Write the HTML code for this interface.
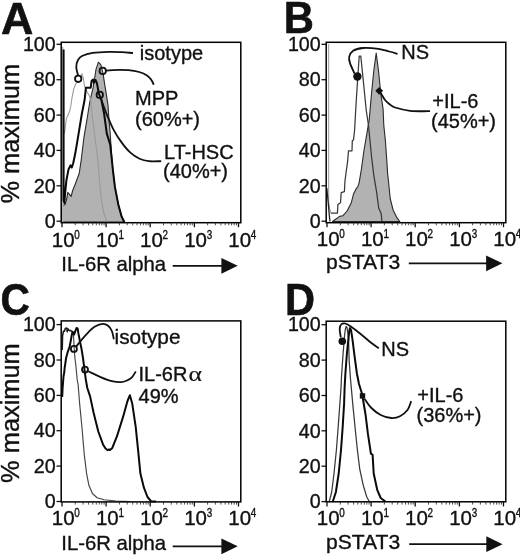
<!DOCTYPE html>
<html><head><meta charset="utf-8"><style>
html,body{margin:0;padding:0;background:#fff;}
svg{display:block;filter:grayscale(1);}
text{font-family:"Liberation Sans",sans-serif;fill:#111;stroke:#111;stroke-width:0.35px;}
</style></head><body>
<svg width="520" height="556" viewBox="0 0 520 556">
<rect width="520" height="556" fill="#fff"/>
<g transform="translate(0,0)">
<path d="M61.7,222.0 L61.7,206.0 L65.1,204.4 L66.4,200.4 L67.8,192.3 L69.5,194.5 L71.2,196.3 L72.5,191.0 L75.2,184.2 L79.2,173.5 L81.2,160.0 L83.9,137.7 L87.3,117.5 L89.8,102.0 L93.1,87.7 L94.5,79.0 L96.0,69.4 L98.4,62.2 L100.8,64.6 L103.2,74.2 L104.6,83.8 L106.5,95.4 L108.0,105.0 L108.8,117.5 L110.2,133.6 L111.5,153.8 L112.9,170.0 L114.9,186.9 L118.3,204.4 L121.6,216.5 L124.3,222.0Z" fill="#b2b2b2" stroke="#2a2a2a" stroke-width="1.1" stroke-linejoin="round"/><rect x="61.8" y="47" width="1.6" height="175" fill="#b2b2b2"/><path d="M64.4,133.6 L66.4,118.8 L69.8,110.8 L71.0,105.0 L71.9,98.3 L73.8,88.7 L75.8,83.8 L79.0,80.0 L82.0,73.8 L83.5,79.0 L84.4,85.8 L87.0,92.0 L89.2,95.4 L90.7,100.0 L92.7,120.0 L95.4,140.4 L98.0,160.6 L99.4,180.2 L101.4,200.4 L104.1,213.8 L106.8,221.2" fill="none" stroke="#9a9a9a" stroke-width="1.1" stroke-linejoin="round"/><path d="M63.6,49.4 L63.6,200.0 L64.4,203.0 L65.1,193.6 L66.4,180.2 L68.5,169.4 L70.5,165.4 L71.8,167.4 L73.2,163.3 L75.2,153.8 L78.6,133.6 L81.9,113.5 L84.6,100.0 L85.9,87.7 L90.7,87.7 L91.6,81.0 L93.1,79.5 L94.0,82.9 L95.5,80.0 L96.9,82.9 L98.8,93.5 L101.4,100.0 L104.1,113.5 L106.8,133.6 L110.2,144.4 L111.5,156.5 L112.9,170.0 L114.9,186.9 L118.3,204.4 L121.6,216.5 L124.3,222.0" fill="none" stroke="#0a0a0a" stroke-width="2" stroke-linejoin="round"/><path d="M78.1,75.7 C77.8,74.2 76.3,69.6 76.3,67.0 C76.3,64.4 77.0,61.8 78.0,60.0 C79.0,58.2 79.5,57.2 82.0,56.0 C84.5,54.8 88.2,53.5 92.7,52.8 C97.2,52.1 103.9,51.9 108.8,51.8 C113.7,51.7 118.0,52.0 122.0,52.2 C126.0,52.4 131.2,52.9 133.0,53.0" fill="none" stroke="#111" stroke-width="1.8"/><path d="M105.5,70.7 C120,69 138,69.5 147,75.5 C150.5,78 152.5,81 153.7,84.8" fill="none" stroke="#111" stroke-width="1.8"/><path d="M100.6,97.5 C100.9,98.5 101.6,100.5 102.7,103.5 C103.8,106.5 105.5,111.5 107.3,115.8 C109.1,120.1 111.2,125.2 113.5,129.6 C115.8,133.9 118.4,138.1 121.2,141.9 C124.0,145.8 127.3,149.9 130.4,152.7 C133.5,155.5 136.5,157.4 139.6,158.8 C142.7,160.2 145.2,160.8 148.8,161.2 C152.4,161.6 159.1,161.2 161.2,161.2" fill="none" stroke="#111" stroke-width="1.8"/><circle cx="78.2" cy="78.8" r="3.2" fill="#fff" stroke="#111" stroke-width="1.8"/><circle cx="102.7" cy="70.9" r="3.2" fill="none" stroke="#111" stroke-width="1.8"/><circle cx="99.8" cy="94.9" r="3.2" fill="none" stroke="#111" stroke-width="1.8"/><text x="139.8" y="59.8" font-size="20">isotype</text><text x="135" y="105" font-size="20">MPP</text><text x="135" y="126.2" font-size="20">(60%+)</text><text x="164" y="158.5" font-size="20">LT-HSC</text><text x="163" y="178.3" font-size="20">(40%+)</text><line x1="172.7" y1="265.8" x2="227.4" y2="265.8" stroke="#111" stroke-width="1.8"/><polygon points="221.4,257.90000000000003 237.70000000000002,265.8 221.4,273.7" fill="#111"/>
<rect x="61.2" y="42.3" width="179.6" height="180.39999999999998" fill="none" stroke="#000" stroke-width="1.5"/>
<line x1="56.5" y1="44.3" x2="61" y2="44.3" stroke="#111" stroke-width="1.3"/>
<text transform="translate(55.7,51.0) scale(0.96,1)" text-anchor="end" font-size="20.5">100</text>
<line x1="56.5" y1="79.7" x2="61" y2="79.7" stroke="#111" stroke-width="1.3"/>
<text transform="translate(55.7,86.4) scale(0.96,1)" text-anchor="end" font-size="20.5">80</text>
<line x1="56.5" y1="115.1" x2="61" y2="115.1" stroke="#111" stroke-width="1.3"/>
<text transform="translate(55.7,121.8) scale(0.96,1)" text-anchor="end" font-size="20.5">60</text>
<line x1="56.5" y1="150.4" x2="61" y2="150.4" stroke="#111" stroke-width="1.3"/>
<text transform="translate(55.7,157.1) scale(0.96,1)" text-anchor="end" font-size="20.5">40</text>
<line x1="56.5" y1="185.8" x2="61" y2="185.8" stroke="#111" stroke-width="1.3"/>
<text transform="translate(55.7,192.5) scale(0.96,1)" text-anchor="end" font-size="20.5">20</text>
<line x1="56.5" y1="221.2" x2="61" y2="221.2" stroke="#111" stroke-width="1.3"/>
<text transform="translate(55.7,227.9) scale(0.96,1)" text-anchor="end" font-size="20.5">0</text>
<line x1="62.0" y1="222.5" x2="62.0" y2="227.2" stroke="#111" stroke-width="1.3"/>
<line x1="75.3" y1="222.5" x2="75.3" y2="225.3" stroke="#222" stroke-width="0.8"/>
<line x1="83.1" y1="222.5" x2="83.1" y2="225.3" stroke="#222" stroke-width="0.8"/>
<line x1="88.6" y1="222.5" x2="88.6" y2="225.3" stroke="#222" stroke-width="0.8"/>
<line x1="92.8" y1="222.5" x2="92.8" y2="225.3" stroke="#222" stroke-width="0.8"/>
<line x1="96.3" y1="222.5" x2="96.3" y2="225.3" stroke="#222" stroke-width="0.8"/>
<line x1="99.3" y1="222.5" x2="99.3" y2="225.3" stroke="#222" stroke-width="0.8"/>
<line x1="101.8" y1="222.5" x2="101.8" y2="225.3" stroke="#222" stroke-width="0.8"/>
<line x1="104.1" y1="222.5" x2="104.1" y2="225.3" stroke="#222" stroke-width="0.8"/>
<text x="51.8" y="246.6" font-size="20.5">10</text><text transform="translate(74.3,238.6) scale(0.86,1.04)" font-size="11.5">0</text>
<line x1="106.1" y1="222.5" x2="106.1" y2="227.2" stroke="#111" stroke-width="1.3"/>
<line x1="119.4" y1="222.5" x2="119.4" y2="225.3" stroke="#222" stroke-width="0.8"/>
<line x1="127.2" y1="222.5" x2="127.2" y2="225.3" stroke="#222" stroke-width="0.8"/>
<line x1="132.7" y1="222.5" x2="132.7" y2="225.3" stroke="#222" stroke-width="0.8"/>
<line x1="137.0" y1="222.5" x2="137.0" y2="225.3" stroke="#222" stroke-width="0.8"/>
<line x1="140.5" y1="222.5" x2="140.5" y2="225.3" stroke="#222" stroke-width="0.8"/>
<line x1="143.4" y1="222.5" x2="143.4" y2="225.3" stroke="#222" stroke-width="0.8"/>
<line x1="146.0" y1="222.5" x2="146.0" y2="225.3" stroke="#222" stroke-width="0.8"/>
<line x1="148.2" y1="222.5" x2="148.2" y2="225.3" stroke="#222" stroke-width="0.8"/>
<text x="95.9" y="246.6" font-size="20.5">10</text><text transform="translate(118.4,238.6) scale(0.86,1.04)" font-size="11.5">1</text>
<line x1="150.2" y1="222.5" x2="150.2" y2="227.2" stroke="#111" stroke-width="1.3"/>
<line x1="163.5" y1="222.5" x2="163.5" y2="225.3" stroke="#222" stroke-width="0.8"/>
<line x1="171.3" y1="222.5" x2="171.3" y2="225.3" stroke="#222" stroke-width="0.8"/>
<line x1="176.8" y1="222.5" x2="176.8" y2="225.3" stroke="#222" stroke-width="0.8"/>
<line x1="181.1" y1="222.5" x2="181.1" y2="225.3" stroke="#222" stroke-width="0.8"/>
<line x1="184.6" y1="222.5" x2="184.6" y2="225.3" stroke="#222" stroke-width="0.8"/>
<line x1="187.5" y1="222.5" x2="187.5" y2="225.3" stroke="#222" stroke-width="0.8"/>
<line x1="190.1" y1="222.5" x2="190.1" y2="225.3" stroke="#222" stroke-width="0.8"/>
<line x1="192.3" y1="222.5" x2="192.3" y2="225.3" stroke="#222" stroke-width="0.8"/>
<text x="140.0" y="246.6" font-size="20.5">10</text><text transform="translate(162.5,238.6) scale(0.86,1.04)" font-size="11.5">2</text>
<line x1="194.4" y1="222.5" x2="194.4" y2="227.2" stroke="#111" stroke-width="1.3"/>
<line x1="207.6" y1="222.5" x2="207.6" y2="225.3" stroke="#222" stroke-width="0.8"/>
<line x1="215.4" y1="222.5" x2="215.4" y2="225.3" stroke="#222" stroke-width="0.8"/>
<line x1="220.9" y1="222.5" x2="220.9" y2="225.3" stroke="#222" stroke-width="0.8"/>
<line x1="225.2" y1="222.5" x2="225.2" y2="225.3" stroke="#222" stroke-width="0.8"/>
<line x1="228.7" y1="222.5" x2="228.7" y2="225.3" stroke="#222" stroke-width="0.8"/>
<line x1="231.6" y1="222.5" x2="231.6" y2="225.3" stroke="#222" stroke-width="0.8"/>
<line x1="234.2" y1="222.5" x2="234.2" y2="225.3" stroke="#222" stroke-width="0.8"/>
<line x1="236.5" y1="222.5" x2="236.5" y2="225.3" stroke="#222" stroke-width="0.8"/>
<text x="184.2" y="246.6" font-size="20.5">10</text><text transform="translate(206.7,238.6) scale(0.86,1.04)" font-size="11.5">3</text>
<line x1="238.5" y1="222.5" x2="238.5" y2="227.2" stroke="#111" stroke-width="1.3"/>
<text x="228.3" y="246.6" font-size="20.5">10</text><text transform="translate(250.8,238.6) scale(0.86,1.04)" font-size="11.5">4</text>
<text transform="translate(61.3,271.2) scale(1,1)" font-size="20.3">IL-6R alpha</text>
<text transform="translate(0.9,34.1) scale(1.03,1)" font-size="43.5" font-weight="bold" style="stroke-width:0.6px">A</text>
<text transform="translate(18.5,203.6) rotate(-90)" font-size="25.4">% maximum</text>
</g>
<g transform="translate(265,0)">
<path d="M67.5,221.5 L69.2,220.2 L74.6,216.4 L77.8,215.8 L82.1,211.0 L86.4,202.4 L88.6,193.7 L90.8,189.4 L93.0,186.2 L94.2,182.3 L96.5,168.5 L98.8,151.5 L101.2,137.7 L103.5,123.8 L104.2,120.0 L106.5,93.8 L108.8,70.8 L111.2,53.1 L113.5,70.8 L115.8,93.8 L118.1,109.2 L118.8,125.4 L120.4,140.8 L121.5,156.2 L122.7,174.6 L123.3,179.2 L125.2,198.5 L128.1,210.0 L131.9,217.7 L134.8,221.5Z" fill="#b2b2b2" stroke="#2a2a2a" stroke-width="1.1" stroke-linejoin="round"/><path d="M63.7,44.0 L63.7,202.0 L64.5,208.0 L65.9,213.1" fill="none" stroke="#999" stroke-width="1" stroke-linejoin="round"/><path d="M61.8,188.0 L63.2,202.4 L64.3,215.3 L65.0,221.5" fill="none" stroke="#222" stroke-width="1.3" stroke-linejoin="round"/><path d="M65.9,213.1 L72.4,213.1 L72.9,204.5 L75.5,202.8 L76.2,192.7 L79.4,191.6 L80.0,180.8 L81.2,171.5 L82.7,160.8 L83.5,150.8 L87.0,150.8 L87.3,140.8 L88.5,140.0 L89.6,130.0 L91.2,101.5 L92.7,78.5 L94.2,56.2 L95.8,56.2 L97.3,70.8 L99.6,93.8 L101.2,110.0 L103.5,125.4 L105.0,140.8 L106.5,156.2 L108.8,175.4 L111.7,192.7 L113.7,208.0 L116.2,213.8 L116.9,221.5" fill="none" stroke="#383838" stroke-width="1.25" stroke-linejoin="round"/><path d="M89.5,73.5 C88.8,71.8 85.9,65.9 85.0,63.1 C84.1,60.3 83.7,59.0 84.2,56.9 C84.7,54.8 85.8,52.3 88.1,50.8 C90.4,49.3 93.9,48.3 98.1,48.0 C102.3,47.7 109.2,48.3 113.5,48.9 C117.8,49.5 121.0,50.7 124.2,51.5 C127.4,52.3 131.1,53.4 132.5,53.8" fill="none" stroke="#111" stroke-width="1.8"/><path d="M115.8,93.1 C116.5,94.2 118.5,98.1 120.0,100.0 C121.5,101.9 123.3,103.2 125.0,104.5 C126.7,105.8 126.7,106.5 130.0,107.5 C133.3,108.5 139.2,110.1 145.0,110.8 C150.8,111.4 161.7,111.2 165.0,111.2" fill="none" stroke="#111" stroke-width="1.8"/><circle cx="92.39999999999998" cy="76.5" r="4.2" fill="#111"/><polygon points="110.29999999999998,90.8 114.19999999999999,86.89999999999999 118.1,90.8 114.19999999999999,94.7" fill="#111"/><text x="136.3" y="58.8" font-size="20">NS</text><text x="167.3" y="107.5" font-size="20">+IL-6</text><text x="166" y="128" font-size="20">(45%+)</text><line x1="143.8" y1="263.3" x2="227.1" y2="263.3" stroke="#111" stroke-width="1.8"/><polygon points="221.1,255.4 237.4,263.3 221.1,271.2" fill="#111"/>
<rect x="61.2" y="42.3" width="179.6" height="180.39999999999998" fill="none" stroke="#000" stroke-width="1.5"/>
<line x1="56.5" y1="44.3" x2="61" y2="44.3" stroke="#111" stroke-width="1.3"/>
<text transform="translate(55.7,51.0) scale(0.96,1)" text-anchor="end" font-size="20.5">100</text>
<line x1="56.5" y1="79.7" x2="61" y2="79.7" stroke="#111" stroke-width="1.3"/>
<text transform="translate(55.7,86.4) scale(0.96,1)" text-anchor="end" font-size="20.5">80</text>
<line x1="56.5" y1="115.1" x2="61" y2="115.1" stroke="#111" stroke-width="1.3"/>
<text transform="translate(55.7,121.8) scale(0.96,1)" text-anchor="end" font-size="20.5">60</text>
<line x1="56.5" y1="150.4" x2="61" y2="150.4" stroke="#111" stroke-width="1.3"/>
<text transform="translate(55.7,157.1) scale(0.96,1)" text-anchor="end" font-size="20.5">40</text>
<line x1="56.5" y1="185.8" x2="61" y2="185.8" stroke="#111" stroke-width="1.3"/>
<text transform="translate(55.7,192.5) scale(0.96,1)" text-anchor="end" font-size="20.5">20</text>
<line x1="56.5" y1="221.2" x2="61" y2="221.2" stroke="#111" stroke-width="1.3"/>
<text transform="translate(55.7,227.9) scale(0.96,1)" text-anchor="end" font-size="20.5">0</text>
<line x1="62.0" y1="222.5" x2="62.0" y2="227.2" stroke="#111" stroke-width="1.3"/>
<line x1="75.3" y1="222.5" x2="75.3" y2="225.3" stroke="#222" stroke-width="0.8"/>
<line x1="83.1" y1="222.5" x2="83.1" y2="225.3" stroke="#222" stroke-width="0.8"/>
<line x1="88.6" y1="222.5" x2="88.6" y2="225.3" stroke="#222" stroke-width="0.8"/>
<line x1="92.8" y1="222.5" x2="92.8" y2="225.3" stroke="#222" stroke-width="0.8"/>
<line x1="96.3" y1="222.5" x2="96.3" y2="225.3" stroke="#222" stroke-width="0.8"/>
<line x1="99.3" y1="222.5" x2="99.3" y2="225.3" stroke="#222" stroke-width="0.8"/>
<line x1="101.8" y1="222.5" x2="101.8" y2="225.3" stroke="#222" stroke-width="0.8"/>
<line x1="104.1" y1="222.5" x2="104.1" y2="225.3" stroke="#222" stroke-width="0.8"/>
<text x="51.8" y="245.8" font-size="20.5">10</text><text transform="translate(74.3,237.8) scale(0.86,1.04)" font-size="11.5">0</text>
<line x1="106.1" y1="222.5" x2="106.1" y2="227.2" stroke="#111" stroke-width="1.3"/>
<line x1="119.4" y1="222.5" x2="119.4" y2="225.3" stroke="#222" stroke-width="0.8"/>
<line x1="127.2" y1="222.5" x2="127.2" y2="225.3" stroke="#222" stroke-width="0.8"/>
<line x1="132.7" y1="222.5" x2="132.7" y2="225.3" stroke="#222" stroke-width="0.8"/>
<line x1="137.0" y1="222.5" x2="137.0" y2="225.3" stroke="#222" stroke-width="0.8"/>
<line x1="140.5" y1="222.5" x2="140.5" y2="225.3" stroke="#222" stroke-width="0.8"/>
<line x1="143.4" y1="222.5" x2="143.4" y2="225.3" stroke="#222" stroke-width="0.8"/>
<line x1="146.0" y1="222.5" x2="146.0" y2="225.3" stroke="#222" stroke-width="0.8"/>
<line x1="148.2" y1="222.5" x2="148.2" y2="225.3" stroke="#222" stroke-width="0.8"/>
<text x="95.9" y="245.8" font-size="20.5">10</text><text transform="translate(118.4,237.8) scale(0.86,1.04)" font-size="11.5">1</text>
<line x1="150.2" y1="222.5" x2="150.2" y2="227.2" stroke="#111" stroke-width="1.3"/>
<line x1="163.5" y1="222.5" x2="163.5" y2="225.3" stroke="#222" stroke-width="0.8"/>
<line x1="171.3" y1="222.5" x2="171.3" y2="225.3" stroke="#222" stroke-width="0.8"/>
<line x1="176.8" y1="222.5" x2="176.8" y2="225.3" stroke="#222" stroke-width="0.8"/>
<line x1="181.1" y1="222.5" x2="181.1" y2="225.3" stroke="#222" stroke-width="0.8"/>
<line x1="184.6" y1="222.5" x2="184.6" y2="225.3" stroke="#222" stroke-width="0.8"/>
<line x1="187.5" y1="222.5" x2="187.5" y2="225.3" stroke="#222" stroke-width="0.8"/>
<line x1="190.1" y1="222.5" x2="190.1" y2="225.3" stroke="#222" stroke-width="0.8"/>
<line x1="192.3" y1="222.5" x2="192.3" y2="225.3" stroke="#222" stroke-width="0.8"/>
<text x="140.0" y="245.8" font-size="20.5">10</text><text transform="translate(162.5,237.8) scale(0.86,1.04)" font-size="11.5">2</text>
<line x1="194.4" y1="222.5" x2="194.4" y2="227.2" stroke="#111" stroke-width="1.3"/>
<line x1="207.6" y1="222.5" x2="207.6" y2="225.3" stroke="#222" stroke-width="0.8"/>
<line x1="215.4" y1="222.5" x2="215.4" y2="225.3" stroke="#222" stroke-width="0.8"/>
<line x1="220.9" y1="222.5" x2="220.9" y2="225.3" stroke="#222" stroke-width="0.8"/>
<line x1="225.2" y1="222.5" x2="225.2" y2="225.3" stroke="#222" stroke-width="0.8"/>
<line x1="228.7" y1="222.5" x2="228.7" y2="225.3" stroke="#222" stroke-width="0.8"/>
<line x1="231.6" y1="222.5" x2="231.6" y2="225.3" stroke="#222" stroke-width="0.8"/>
<line x1="234.2" y1="222.5" x2="234.2" y2="225.3" stroke="#222" stroke-width="0.8"/>
<line x1="236.5" y1="222.5" x2="236.5" y2="225.3" stroke="#222" stroke-width="0.8"/>
<text x="184.2" y="245.8" font-size="20.5">10</text><text transform="translate(206.7,237.8) scale(0.86,1.04)" font-size="11.5">3</text>
<line x1="238.5" y1="222.5" x2="238.5" y2="227.2" stroke="#111" stroke-width="1.3"/>
<text x="228.3" y="245.8" font-size="20.5">10</text><text transform="translate(250.8,237.8) scale(0.86,1.04)" font-size="11.5">4</text>
<text transform="translate(61.0,268.6) scale(1.055,1)" font-size="20">pSTAT3</text>
<text transform="translate(18.8,33.3) scale(0.96,1)" font-size="43.5" font-weight="bold" style="stroke-width:0.6px">B</text>
</g>
<g transform="translate(0,279.3)">
<path d="M62.4,70.7 L62.6,56.7 L63.4,51.8 L64.4,52.2 L65.3,49.1 L66.8,48.7 L67.2,52.5 L68.0,49.5 L69.2,51.3 L70.3,51.0 L72.2,52.5 L73.4,54.1 L73.8,61.8 L74.2,69.5 L74.9,78.7 L75.9,86.5 L77.2,100.7 L78.1,104.9 L79.6,124.1 L81.9,147.5 L84.3,175.6 L86.6,194.3 L88.9,206.0 L92.4,214.2 L97.1,218.4 L104.1,220.5 L115.8,221.7 L130.0,222.2" fill="none" stroke="#444" stroke-width="1.15" stroke-linejoin="round"/><path d="M62.4,70.7 L62.6,56.7 L63.4,51.8 L64.4,52.2 L65.3,49.1 L66.8,48.7 L67.2,52.5 L68.0,49.5 L69.2,51.3 L70.3,51.0 L72.2,52.5" fill="none" stroke="#1a1a1a" stroke-width="1.2" stroke-linejoin="round"/><path d="M62.2,117.7 L62.6,108.7 L63.5,97.2 L64.3,92.7 L64.6,88.7 L65.0,86.5 L66.1,78.7 L68.0,71.8 L69.5,67.9 L70.7,61.8 L71.8,55.6 L72.6,52.5 L73.4,53.3 L74.2,55.2 L75.3,51.8 L76.5,48.7 L77.6,49.1 L78.4,54.1 L79.9,61.8 L81.5,69.5 L83.0,78.7 L84.2,88.0 L85.8,100.3 L87.3,108.7 L90.1,117.1 L93.6,133.5 L98.3,152.2 L103.0,165.1 L105.5,169.2 L107.7,170.9 L109.0,170.2 L110.0,170.7 L112.3,168.6 L117.0,156.9 L122.9,138.1 L127.5,121.7 L129.9,115.9 L132.2,124.1 L135.7,147.5 L138.1,170.9 L140.4,194.3 L143.9,208.4 L147.5,217.7 L151.0,221.9 L156.0,222.3" fill="none" stroke="#0a0a0a" stroke-width="2" stroke-linejoin="round"/><path d="M76.2,67.3 C77.0,66.3 79.0,63.5 81.1,61.0 C83.2,58.5 86.5,54.8 88.8,52.5 C91.1,50.2 92.7,48.5 95.0,47.2 C97.3,45.9 100.5,44.7 102.7,44.6 C104.9,44.5 106.6,45.3 108.1,46.5 C109.6,47.7 111.0,49.7 111.9,51.9 C112.9,54.1 113.5,58.6 113.8,59.9" fill="none" stroke="#111" stroke-width="1.8"/><path d="M88.1,91.9 C90.3,92.9 97.2,96.3 101.2,98.0 C105.2,99.7 108.6,101.1 111.9,101.9 C115.2,102.7 118.2,103.0 120.8,102.9 C123.4,102.8 125.4,101.9 127.3,101.1 C129.2,100.3 130.5,99.5 131.9,98.0 C133.3,96.5 135.2,93.2 135.8,92.2" fill="none" stroke="#111" stroke-width="1.8"/><circle cx="73.9" cy="69.59999999999997" r="3.0" fill="none" stroke="#111" stroke-width="1.8"/><circle cx="85" cy="90.30000000000001" r="3.0" fill="none" stroke="#111" stroke-width="1.8"/><text x="114.6" y="64.5" font-size="20.8">isotype</text><text x="138.5" y="101.5" font-size="20">IL-6R</text><text transform="translate(188.6,101.30000000000001) scale(1.22,0.97)" font-size="21" style="font-family:'Liberation Serif',serif;stroke-width:0.2px">&#945;</text><text x="138.6" y="123.89999999999998" font-size="20">49%</text><line x1="172.7" y1="267.0" x2="227.4" y2="267.0" stroke="#111" stroke-width="1.8"/><polygon points="221.4,259.1 237.70000000000002,267.0 221.4,274.9" fill="#111"/>
<rect x="61.2" y="41.6" width="179.6" height="181.0" fill="none" stroke="#000" stroke-width="1.5"/>
<line x1="56.5" y1="45.3" x2="61" y2="45.3" stroke="#111" stroke-width="1.3"/>
<text transform="translate(55.7,52.0) scale(0.96,1)" text-anchor="end" font-size="20.5">100</text>
<line x1="56.5" y1="80.7" x2="61" y2="80.7" stroke="#111" stroke-width="1.3"/>
<text transform="translate(55.7,87.4) scale(0.96,1)" text-anchor="end" font-size="20.5">80</text>
<line x1="56.5" y1="116.1" x2="61" y2="116.1" stroke="#111" stroke-width="1.3"/>
<text transform="translate(55.7,122.8) scale(0.96,1)" text-anchor="end" font-size="20.5">60</text>
<line x1="56.5" y1="151.4" x2="61" y2="151.4" stroke="#111" stroke-width="1.3"/>
<text transform="translate(55.7,158.1) scale(0.96,1)" text-anchor="end" font-size="20.5">40</text>
<line x1="56.5" y1="186.8" x2="61" y2="186.8" stroke="#111" stroke-width="1.3"/>
<text transform="translate(55.7,193.5) scale(0.96,1)" text-anchor="end" font-size="20.5">20</text>
<line x1="56.5" y1="222.2" x2="61" y2="222.2" stroke="#111" stroke-width="1.3"/>
<text transform="translate(55.7,228.9) scale(0.96,1)" text-anchor="end" font-size="20.5">0</text>
<line x1="62.0" y1="222.5" x2="62.0" y2="227.2" stroke="#111" stroke-width="1.3"/>
<line x1="75.3" y1="222.5" x2="75.3" y2="225.3" stroke="#222" stroke-width="0.8"/>
<line x1="83.1" y1="222.5" x2="83.1" y2="225.3" stroke="#222" stroke-width="0.8"/>
<line x1="88.6" y1="222.5" x2="88.6" y2="225.3" stroke="#222" stroke-width="0.8"/>
<line x1="92.8" y1="222.5" x2="92.8" y2="225.3" stroke="#222" stroke-width="0.8"/>
<line x1="96.3" y1="222.5" x2="96.3" y2="225.3" stroke="#222" stroke-width="0.8"/>
<line x1="99.3" y1="222.5" x2="99.3" y2="225.3" stroke="#222" stroke-width="0.8"/>
<line x1="101.8" y1="222.5" x2="101.8" y2="225.3" stroke="#222" stroke-width="0.8"/>
<line x1="104.1" y1="222.5" x2="104.1" y2="225.3" stroke="#222" stroke-width="0.8"/>
<text x="51.8" y="245.3" font-size="20.5">10</text><text transform="translate(74.3,237.3) scale(0.86,1.04)" font-size="11.5">0</text>
<line x1="106.1" y1="222.5" x2="106.1" y2="227.2" stroke="#111" stroke-width="1.3"/>
<line x1="119.4" y1="222.5" x2="119.4" y2="225.3" stroke="#222" stroke-width="0.8"/>
<line x1="127.2" y1="222.5" x2="127.2" y2="225.3" stroke="#222" stroke-width="0.8"/>
<line x1="132.7" y1="222.5" x2="132.7" y2="225.3" stroke="#222" stroke-width="0.8"/>
<line x1="137.0" y1="222.5" x2="137.0" y2="225.3" stroke="#222" stroke-width="0.8"/>
<line x1="140.5" y1="222.5" x2="140.5" y2="225.3" stroke="#222" stroke-width="0.8"/>
<line x1="143.4" y1="222.5" x2="143.4" y2="225.3" stroke="#222" stroke-width="0.8"/>
<line x1="146.0" y1="222.5" x2="146.0" y2="225.3" stroke="#222" stroke-width="0.8"/>
<line x1="148.2" y1="222.5" x2="148.2" y2="225.3" stroke="#222" stroke-width="0.8"/>
<text x="95.9" y="245.3" font-size="20.5">10</text><text transform="translate(118.4,237.3) scale(0.86,1.04)" font-size="11.5">1</text>
<line x1="150.2" y1="222.5" x2="150.2" y2="227.2" stroke="#111" stroke-width="1.3"/>
<line x1="163.5" y1="222.5" x2="163.5" y2="225.3" stroke="#222" stroke-width="0.8"/>
<line x1="171.3" y1="222.5" x2="171.3" y2="225.3" stroke="#222" stroke-width="0.8"/>
<line x1="176.8" y1="222.5" x2="176.8" y2="225.3" stroke="#222" stroke-width="0.8"/>
<line x1="181.1" y1="222.5" x2="181.1" y2="225.3" stroke="#222" stroke-width="0.8"/>
<line x1="184.6" y1="222.5" x2="184.6" y2="225.3" stroke="#222" stroke-width="0.8"/>
<line x1="187.5" y1="222.5" x2="187.5" y2="225.3" stroke="#222" stroke-width="0.8"/>
<line x1="190.1" y1="222.5" x2="190.1" y2="225.3" stroke="#222" stroke-width="0.8"/>
<line x1="192.3" y1="222.5" x2="192.3" y2="225.3" stroke="#222" stroke-width="0.8"/>
<text x="140.0" y="245.3" font-size="20.5">10</text><text transform="translate(162.5,237.3) scale(0.86,1.04)" font-size="11.5">2</text>
<line x1="194.4" y1="222.5" x2="194.4" y2="227.2" stroke="#111" stroke-width="1.3"/>
<line x1="207.6" y1="222.5" x2="207.6" y2="225.3" stroke="#222" stroke-width="0.8"/>
<line x1="215.4" y1="222.5" x2="215.4" y2="225.3" stroke="#222" stroke-width="0.8"/>
<line x1="220.9" y1="222.5" x2="220.9" y2="225.3" stroke="#222" stroke-width="0.8"/>
<line x1="225.2" y1="222.5" x2="225.2" y2="225.3" stroke="#222" stroke-width="0.8"/>
<line x1="228.7" y1="222.5" x2="228.7" y2="225.3" stroke="#222" stroke-width="0.8"/>
<line x1="231.6" y1="222.5" x2="231.6" y2="225.3" stroke="#222" stroke-width="0.8"/>
<line x1="234.2" y1="222.5" x2="234.2" y2="225.3" stroke="#222" stroke-width="0.8"/>
<line x1="236.5" y1="222.5" x2="236.5" y2="225.3" stroke="#222" stroke-width="0.8"/>
<text x="184.2" y="245.3" font-size="20.5">10</text><text transform="translate(206.7,237.3) scale(0.86,1.04)" font-size="11.5">3</text>
<line x1="238.5" y1="222.5" x2="238.5" y2="227.2" stroke="#111" stroke-width="1.3"/>
<text x="228.3" y="245.3" font-size="20.5">10</text><text transform="translate(250.8,237.3) scale(0.86,1.04)" font-size="11.5">4</text>
<text transform="translate(61.3,271.1) scale(1,1)" font-size="20.3">IL-6R alpha</text>
<text transform="translate(0.4,35.5) scale(0.935,1)" font-size="43.5" font-weight="bold" style="stroke-width:0.6px">C</text>
<text transform="translate(18.5,203.6) rotate(-90)" font-size="25.4">% maximum</text>
</g>
<g transform="translate(265,279.3)">
<path d="M64.3,222.0 L66.7,212.7 L69.0,194.2 L71.4,170.7 L73.2,147.4 L74.9,124.1 L76.0,108.7 L76.5,97.2 L78.1,74.2 L79.6,55.7 L80.4,49.7 L81.2,47.2 L82.0,48.2 L83.5,58.8 L84.2,81.9 L85.6,100.7 L87.7,124.1 L90.0,147.4 L92.4,170.7 L94.7,189.5 L98.2,205.8 L101.7,217.5 L104.1,222.0" fill="none" stroke="#383838" stroke-width="1.25" stroke-linejoin="round"/><path d="M67.9,222.0 L70.9,212.7 L73.7,194.2 L76.0,170.7 L77.7,147.4 L79.1,124.1 L79.6,108.7 L80.4,94.2 L81.9,74.2 L83.5,58.8 L84.3,51.2 L85.0,48.8 L86.0,50.7 L87.3,58.8 L89.6,77.2 L91.9,94.2 L94.0,104.7 L97.1,114.7 L100.6,135.7 L102.9,154.4 L105.9,174.3 L107.6,175.5 L108.7,194.2 L112.2,210.5 L115.7,218.7 L120.4,222.2" fill="none" stroke="#0a0a0a" stroke-width="2" stroke-linejoin="round"/><path d="M75.8,58.0 C75.6,56.6 74.6,51.7 74.7,49.5 C74.8,47.3 75.5,45.8 76.5,44.9 C77.5,44.0 78.8,43.8 80.4,44.2 C81.9,44.6 83.4,45.5 85.8,47.2 C88.2,48.9 91.9,51.7 95.0,54.2 C98.1,56.6 101.1,59.4 104.2,61.9 C107.3,64.4 112.2,67.8 113.8,69.0" fill="none" stroke="#111" stroke-width="1.8"/><path d="M99.4,119.4 C100.6,120.9 103.7,126.0 106.4,128.7 C109.1,131.4 112.4,134.0 115.7,135.7 C119.0,137.4 123.0,138.5 126.2,138.7 C129.5,138.9 132.3,138.3 135.0,136.9 C137.7,135.6 140.6,133.2 142.5,130.7 C144.4,128.2 145.6,123.4 146.2,121.9" fill="none" stroke="#111" stroke-width="1.8"/><circle cx="77.30000000000001" cy="61.89999999999998" r="3.8" fill="#111"/><rect x="94.8" y="113.89999999999996" width="5.4" height="5.4" fill="#111"/><text x="116.19999999999999" y="76.5" font-size="20">NS</text><text x="152.3" y="122.69999999999999" font-size="20">+IL-6</text><text x="151.5" y="142.7" font-size="20">(36%+)</text><line x1="144.2" y1="264.9" x2="227.3" y2="264.9" stroke="#111" stroke-width="1.8"/><polygon points="221.3,257.0 237.60000000000002,264.9 221.3,272.79999999999995" fill="#111"/>
<rect x="61.2" y="41.9" width="179.6" height="180.6" fill="none" stroke="#000" stroke-width="1.5"/>
<line x1="56.5" y1="45.4" x2="61" y2="45.4" stroke="#111" stroke-width="1.3"/>
<text transform="translate(55.7,52.1) scale(0.96,1)" text-anchor="end" font-size="20.5">100</text>
<line x1="56.5" y1="80.8" x2="61" y2="80.8" stroke="#111" stroke-width="1.3"/>
<text transform="translate(55.7,87.5) scale(0.96,1)" text-anchor="end" font-size="20.5">80</text>
<line x1="56.5" y1="116.2" x2="61" y2="116.2" stroke="#111" stroke-width="1.3"/>
<text transform="translate(55.7,122.9) scale(0.96,1)" text-anchor="end" font-size="20.5">60</text>
<line x1="56.5" y1="151.5" x2="61" y2="151.5" stroke="#111" stroke-width="1.3"/>
<text transform="translate(55.7,158.2) scale(0.96,1)" text-anchor="end" font-size="20.5">40</text>
<line x1="56.5" y1="186.9" x2="61" y2="186.9" stroke="#111" stroke-width="1.3"/>
<text transform="translate(55.7,193.6) scale(0.96,1)" text-anchor="end" font-size="20.5">20</text>
<line x1="56.5" y1="222.3" x2="61" y2="222.3" stroke="#111" stroke-width="1.3"/>
<text transform="translate(55.7,229.0) scale(0.96,1)" text-anchor="end" font-size="20.5">0</text>
<line x1="62.0" y1="222.5" x2="62.0" y2="227.2" stroke="#111" stroke-width="1.3"/>
<line x1="75.3" y1="222.5" x2="75.3" y2="225.3" stroke="#222" stroke-width="0.8"/>
<line x1="83.1" y1="222.5" x2="83.1" y2="225.3" stroke="#222" stroke-width="0.8"/>
<line x1="88.6" y1="222.5" x2="88.6" y2="225.3" stroke="#222" stroke-width="0.8"/>
<line x1="92.8" y1="222.5" x2="92.8" y2="225.3" stroke="#222" stroke-width="0.8"/>
<line x1="96.3" y1="222.5" x2="96.3" y2="225.3" stroke="#222" stroke-width="0.8"/>
<line x1="99.3" y1="222.5" x2="99.3" y2="225.3" stroke="#222" stroke-width="0.8"/>
<line x1="101.8" y1="222.5" x2="101.8" y2="225.3" stroke="#222" stroke-width="0.8"/>
<line x1="104.1" y1="222.5" x2="104.1" y2="225.3" stroke="#222" stroke-width="0.8"/>
<text x="51.8" y="245.3" font-size="20.5">10</text><text transform="translate(74.3,237.3) scale(0.86,1.04)" font-size="11.5">0</text>
<line x1="106.1" y1="222.5" x2="106.1" y2="227.2" stroke="#111" stroke-width="1.3"/>
<line x1="119.4" y1="222.5" x2="119.4" y2="225.3" stroke="#222" stroke-width="0.8"/>
<line x1="127.2" y1="222.5" x2="127.2" y2="225.3" stroke="#222" stroke-width="0.8"/>
<line x1="132.7" y1="222.5" x2="132.7" y2="225.3" stroke="#222" stroke-width="0.8"/>
<line x1="137.0" y1="222.5" x2="137.0" y2="225.3" stroke="#222" stroke-width="0.8"/>
<line x1="140.5" y1="222.5" x2="140.5" y2="225.3" stroke="#222" stroke-width="0.8"/>
<line x1="143.4" y1="222.5" x2="143.4" y2="225.3" stroke="#222" stroke-width="0.8"/>
<line x1="146.0" y1="222.5" x2="146.0" y2="225.3" stroke="#222" stroke-width="0.8"/>
<line x1="148.2" y1="222.5" x2="148.2" y2="225.3" stroke="#222" stroke-width="0.8"/>
<text x="95.9" y="245.3" font-size="20.5">10</text><text transform="translate(118.4,237.3) scale(0.86,1.04)" font-size="11.5">1</text>
<line x1="150.2" y1="222.5" x2="150.2" y2="227.2" stroke="#111" stroke-width="1.3"/>
<line x1="163.5" y1="222.5" x2="163.5" y2="225.3" stroke="#222" stroke-width="0.8"/>
<line x1="171.3" y1="222.5" x2="171.3" y2="225.3" stroke="#222" stroke-width="0.8"/>
<line x1="176.8" y1="222.5" x2="176.8" y2="225.3" stroke="#222" stroke-width="0.8"/>
<line x1="181.1" y1="222.5" x2="181.1" y2="225.3" stroke="#222" stroke-width="0.8"/>
<line x1="184.6" y1="222.5" x2="184.6" y2="225.3" stroke="#222" stroke-width="0.8"/>
<line x1="187.5" y1="222.5" x2="187.5" y2="225.3" stroke="#222" stroke-width="0.8"/>
<line x1="190.1" y1="222.5" x2="190.1" y2="225.3" stroke="#222" stroke-width="0.8"/>
<line x1="192.3" y1="222.5" x2="192.3" y2="225.3" stroke="#222" stroke-width="0.8"/>
<text x="140.0" y="245.3" font-size="20.5">10</text><text transform="translate(162.5,237.3) scale(0.86,1.04)" font-size="11.5">2</text>
<line x1="194.4" y1="222.5" x2="194.4" y2="227.2" stroke="#111" stroke-width="1.3"/>
<line x1="207.6" y1="222.5" x2="207.6" y2="225.3" stroke="#222" stroke-width="0.8"/>
<line x1="215.4" y1="222.5" x2="215.4" y2="225.3" stroke="#222" stroke-width="0.8"/>
<line x1="220.9" y1="222.5" x2="220.9" y2="225.3" stroke="#222" stroke-width="0.8"/>
<line x1="225.2" y1="222.5" x2="225.2" y2="225.3" stroke="#222" stroke-width="0.8"/>
<line x1="228.7" y1="222.5" x2="228.7" y2="225.3" stroke="#222" stroke-width="0.8"/>
<line x1="231.6" y1="222.5" x2="231.6" y2="225.3" stroke="#222" stroke-width="0.8"/>
<line x1="234.2" y1="222.5" x2="234.2" y2="225.3" stroke="#222" stroke-width="0.8"/>
<line x1="236.5" y1="222.5" x2="236.5" y2="225.3" stroke="#222" stroke-width="0.8"/>
<text x="184.2" y="245.3" font-size="20.5">10</text><text transform="translate(206.7,237.3) scale(0.86,1.04)" font-size="11.5">3</text>
<line x1="238.5" y1="222.5" x2="238.5" y2="227.2" stroke="#111" stroke-width="1.3"/>
<text x="228.3" y="245.3" font-size="20.5">10</text><text transform="translate(250.8,237.3) scale(0.86,1.04)" font-size="11.5">4</text>
<text transform="translate(61.0,269.4) scale(1.055,1)" font-size="20">pSTAT3</text>
<text transform="translate(19.9,35.5) scale(0.955,1)" font-size="43.5" font-weight="bold" style="stroke-width:0.6px">D</text>
</g>
</svg>
</body></html>
